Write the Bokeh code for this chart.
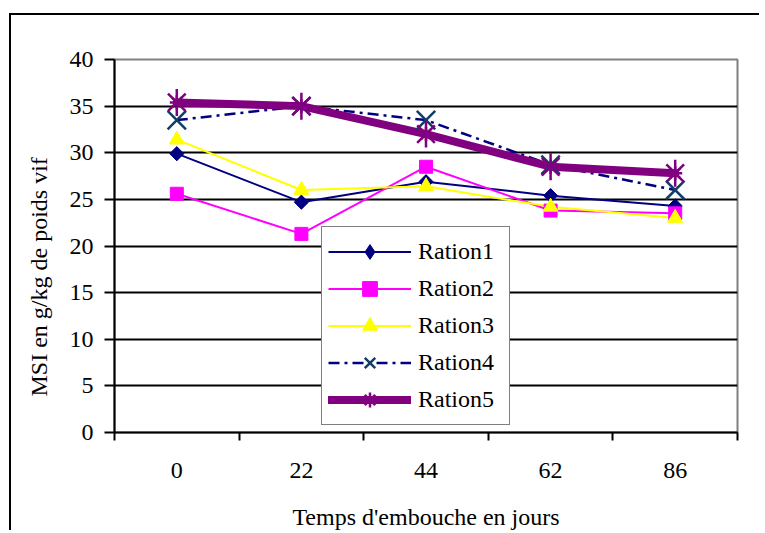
import math
from bokeh.plotting import figure
from bokeh.models import FixedTicker, Legend, LegendItem, Title
from bokeh.embed import file_html
from bokeh.resources import INLINE

# ---- data ----
days = ["0", "22", "44", "62", "86"]
ration1 = [29.9, 24.7, 26.9, 25.4, 24.3]
ration2 = [25.6, 21.3, 28.5, 23.8, 23.5]
ration3 = [31.4, 26.0, 26.4, 24.2, 23.0]
ration4 = [33.5, 35.0, 33.5, 28.7, 26.0]
ration5 = [35.4, 35.0, 32.0, 28.5, 27.8]
series_names = ["Ration1", "Ration2", "Ration3", "Ration4", "Ration5"]
y_ticks = [0, 5, 10, 15, 20, 25, 30, 35, 40]
x_title = "Temps d'embouche en jours"
y_title = "MSI en g/kg de poids vif"

FONT = "Liberation Serif"

xs = [i + 0.5 for i in range(len(days))]
bounds = list(range(len(days) + 1))

p = figure(width=750, height=517, x_range=(0, len(days)), y_range=(y_ticks[0], y_ticks[-1]),
           output_backend="svg", toolbar_location=None,
           min_border_left=103, min_border_right=24, min_border_top=44, min_border_bottom=100,
           background_fill_color="white", border_fill_color="white")
p.styles = {"position": "relative", "left": "9px", "top": "13px",
            "border-left": "2px solid black", "border-top": "2px solid black"}

p.outline_line_color = "#808080"
p.outline_line_width = 2

# grid
p.xgrid.visible = False
p.ygrid.ticker = FixedTicker(ticks=y_ticks[1:-1])
p.ygrid.grid_line_color = "black"
p.ygrid.grid_line_width = 2

# x axis
p.xaxis.ticker = FixedTicker(ticks=xs, minor_ticks=bounds)
p.xaxis.major_label_overrides = {xv: d for xv, d in zip(xs, days)}
p.xaxis.major_tick_out = 0
p.xaxis.major_tick_in = 0
p.xaxis.minor_tick_out = 8
p.xaxis.minor_tick_in = 0
p.xaxis.minor_tick_line_color = "black"
p.xaxis.minor_tick_line_width = 2
p.xaxis.axis_line_color = "black"
p.xaxis.axis_line_width = 2
p.xaxis.major_label_text_font = FONT
p.xaxis.major_label_text_font_size = "24px"
p.xaxis.major_label_text_color = "black"
p.xaxis.major_label_text_line_height = 1.0
p.xaxis.major_label_standoff = 22
p.xaxis.axis_label = x_title
p.xaxis.axis_label_text_font = FONT
p.xaxis.axis_label_text_font_size = "24px"
p.xaxis.axis_label_text_font_style = "normal"
p.xaxis.axis_label_text_color = "black"
p.xaxis.axis_label_text_line_height = 1.0
p.xaxis.axis_label_standoff = 23

# y axis
p.yaxis.ticker = FixedTicker(ticks=y_ticks)
p.yaxis.major_tick_out = 10
p.yaxis.major_tick_in = 0
p.yaxis.minor_tick_line_color = None
p.yaxis.major_tick_line_color = "black"
p.yaxis.major_tick_line_width = 2
p.yaxis.axis_line_color = "black"
p.yaxis.axis_line_width = 2
p.yaxis.major_label_text_font = FONT
p.yaxis.major_label_text_font_size = "24px"
p.yaxis.major_label_text_color = "black"
p.yaxis.major_label_standoff = 11

# lines
l1 = p.line(xs, ration1, line_color="#000080", line_width=2)
l2 = p.line(xs, ration2, line_color="#FF00FF", line_width=2)
l3 = p.line(xs, ration3, line_color="#FFFF00", line_width=2)
l4 = p.line(xs, ration4, line_color="#000080", line_width=2.5, line_dash="11 5 3 5")
l5 = p.line(xs, ration5, line_color="#800080", line_width=8, line_cap="round", line_join="round")

# markers (diamond / asterisk used for the legend, hidden under the plot markers)
g1 = p.scatter(xs, ration1, marker="diamond", size=13, fill_color="#000080", line_color="#000080")
m1 = p.scatter(xs, ration1, marker="square", angle=math.pi / 4, size=10,
               fill_color="#000080", line_color="#000080")
m2 = p.scatter(xs, ration2, marker="square", size=13, fill_color="#FF00FF", line_color="#FF00FF")
m3 = p.scatter(xs, ration3, marker="triangle", size=15, fill_color="#FFFF00", line_color="#FFFF00")
m4 = p.scatter(xs, ration4, marker="x", size=26, line_color="#0F3F66", line_width=2.5)
g5 = p.scatter(xs, ration5, marker="asterisk", size=14, line_color="#800080", line_width=2.5)
m5a = p.scatter(xs, ration5, marker="x", size=25, line_color="#800080", line_width=2.5)
m5b = p.scatter(xs, ration5, marker="dash", angle=math.pi / 2, size=27, line_color="#800080", line_width=2.5)

legend = Legend(items=[
    LegendItem(label=series_names[0], renderers=[l1, g1]),
    LegendItem(label=series_names[1], renderers=[l2, m2]),
    LegendItem(label=series_names[2], renderers=[l3, m3]),
    LegendItem(label=series_names[3], renderers=[l4, m4]),
    LegendItem(label=series_names[4], renderers=[l5, g5]),
], location=(207, 7))
legend.label_text_font = FONT
legend.label_text_font_size = "24px"
legend.label_text_color = "black"
legend.label_text_baseline = "middle"
legend.glyph_width = 83
legend.glyph_height = 37
legend.label_height = 37
legend.label_width = 85
legend.label_standoff = 7
legend.padding = 6
legend.spacing = 0
legend.margin = 0
legend.border_line_color = "black"
legend.border_line_width = 1.5
legend.background_fill_color = "white"
legend.background_fill_alpha = 1
p.add_layout(legend)

# y axis title
p.add_layout(Title(text=y_title, align="left", offset=36, vertical_align="top", standoff=26,
                   text_font=FONT, text_font_size="24px", text_font_style="normal",
                   text_color="black"), "left")

open("out.html", "w").write(file_html(p, INLINE))
